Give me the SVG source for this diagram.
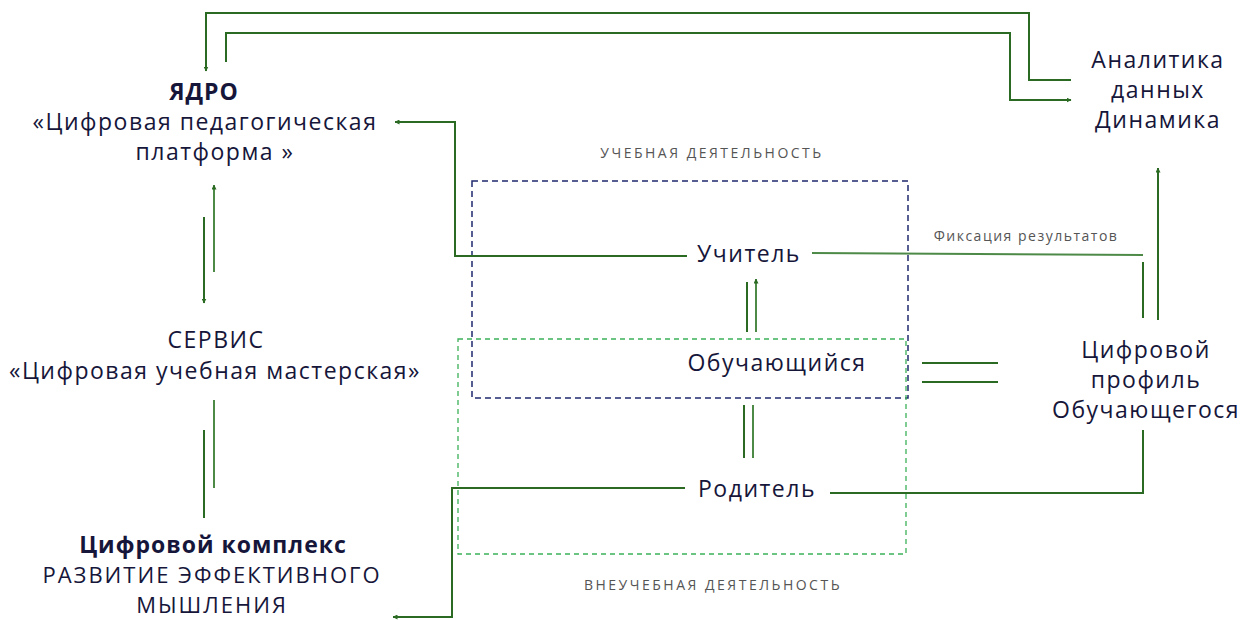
<svg xmlns="http://www.w3.org/2000/svg" width="1241" height="620" viewBox="0 0 1241 620">
<style>
.t{font-family:"Open Sans","Noto Sans",sans-serif;font-size:23px;letter-spacing:1.5px;fill:#16163a;text-anchor:middle}
.b{font-weight:bold;letter-spacing:1px}
.k{font-size:22px;letter-spacing:2px}
.s{font-family:"Open Sans","Noto Sans",sans-serif;font-size:14px;letter-spacing:2.5px;fill:#555;text-anchor:middle}
.f{letter-spacing:1.5px}
.c{fill:none;stroke:#2a6a22;stroke-width:2}
.cl{fill:none;stroke:#4d8a48;stroke-width:2}
</style>
<defs>
<marker id="ah" viewBox="0 0 10 10" refX="9" refY="5" markerWidth="5" markerHeight="5" orient="auto-start-reverse" markerUnits="userSpaceOnUse">
<path d="M0,0 L10,5 L0,10 z" fill="#2a6a22"/>
</marker>
</defs>
<rect width="1241" height="620" fill="#fff"/>

<g id="boxes">
<rect x="472" y="181" width="436" height="217" fill="none" stroke="#1f2a6e" stroke-width="1.5" stroke-dasharray="6,4"/>
<rect x="458" y="339" width="448" height="215" fill="none" stroke="#3cb15a" stroke-width="1.3" stroke-dasharray="5,4"/>
</g>

<g id="connectors">
<polyline class="c" points="226,62 226,33 1010,33 1010,100 1071,100" marker-end="url(#ah)"/>
<polyline class="c" points="1071,80 1029,80 1029,13 206,13 206,71" marker-end="url(#ah)"/>
<polyline class="c" points="687,256 455,256 455,122 395,122" marker-end="url(#ah)"/>
<polyline class="cl" points="812,253 1143,255"/>
<line class="c" x1="1143" y1="262" x2="1143" y2="318"/>
<line class="c" x1="1158" y1="320" x2="1158" y2="168" marker-end="url(#ah)"/>
<polyline class="c" points="830,493 1143,493 1143,430"/>
<polyline class="c" points="685,488 452,488 452,617 393,617" marker-end="url(#ah)"/>
<line class="c" x1="204" y1="217" x2="204" y2="303" marker-end="url(#ah)"/>
<line class="cl" x1="214" y1="272" x2="214" y2="185" marker-end="url(#ah)"/>
<line class="c" x1="204" y1="430" x2="204" y2="518"/>
<line class="cl" x1="214" y1="488" x2="214" y2="400"/>
<line class="c" x1="747" y1="282" x2="747" y2="332"/>
<line class="cl" x1="756" y1="332" x2="756" y2="279" marker-end="url(#ah)"/>
<line class="c" x1="744" y1="405" x2="744" y2="458"/>
<line class="cl" x1="753" y1="405" x2="753" y2="458"/>
<line class="c" x1="922" y1="363" x2="998" y2="363"/>
<line class="c" x1="922" y1="382" x2="998" y2="382"/>
</g>

<g id="core">
<text class="t b" x="204" y="100">ЯДРО</text>
<text class="t" x="205" y="130">«Цифровая педагогическая</text>
<text class="t" x="215" y="160">платформа »</text>
</g>
<g id="service">
<text class="t" x="216" y="348">СЕРВИС</text>
<text class="t" x="215" y="379">«Цифровая учебная мастерская»</text>
</g>
<g id="complex">
<text class="t b" x="213" y="553">Цифровой комплекс</text>
<text class="t k" x="212" y="583">РАЗВИТИЕ ЭФФЕКТИВНОГО</text>
<text class="t k" x="212" y="613">МЫШЛЕНИЯ</text>
</g>
<g id="analytics">
<text class="t" x="1158" y="68">Аналитика</text>
<text class="t" x="1158" y="98">данных</text>
<text class="t" x="1158" y="128">Динамика</text>
</g>
<g id="profile">
<text class="t" x="1146" y="358">Цифровой</text>
<text class="t" x="1146" y="388">профиль</text>
<text class="t" x="1146" y="418">Обучающегося</text>
</g>
<g id="teacher"><text class="t" x="749" y="262">Учитель</text></g>
<g id="student"><text class="t" x="777" y="371">Обучающийся</text></g>
<g id="parent"><text class="t" x="757" y="497">Родитель</text></g>
<g id="labels">
<text class="s" x="712" y="158">УЧЕБНАЯ ДЕЯТЕЛЬНОСТЬ</text>
<text class="s" x="713" y="590">ВНЕУЧЕБНАЯ ДЕЯТЕЛЬНОСТЬ</text>
<text class="s f" x="1026" y="241">Фиксация результатов</text>
</g>
</svg>
